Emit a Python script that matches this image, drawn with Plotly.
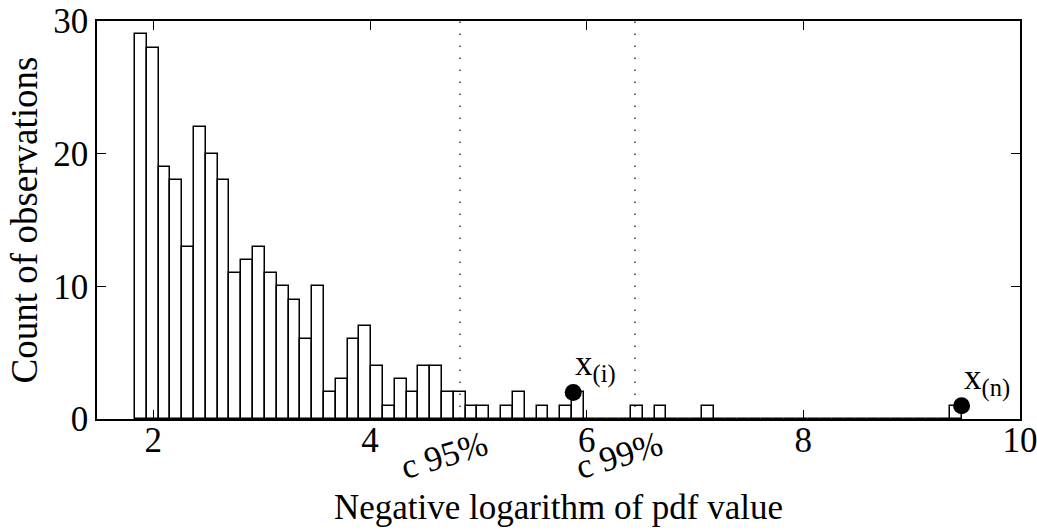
import numpy as np
import plotly.graph_objects as go

# Histogram of negative log pdf values: 70 equal-width bins
bin_lo = 1.831
bin_hi = 9.461
counts = [29, 28, 19, 18, 13, 22, 20, 18, 11, 12,
          13, 11, 10, 9, 6, 10, 2, 3, 6, 7,
          4, 1, 3, 2, 4, 4, 2, 2, 1, 1,
          0, 1, 2, 0, 1, 0, 1, 2, 0, 0,
          0, 0, 1, 0, 1, 0, 0, 0, 1, 0,
          0, 0, 0, 0, 0, 0, 0, 0, 0, 0,
          0, 0, 0, 0, 0, 0, 0, 0, 0, 1]

# Critical values (95% and 99%)
crit_x = [4.831, 6.446]
crit_labels = ["c 95%", "c 99%"]

# Highlighted observations
obs_x = [5.876, 9.461]
obs_y = [2, 1]
obs_labels = ["x<sub>(i)</sub>", "x<sub>(n)</sub>"]

x_ticks = [2, 4, 6, 8, 10]
y_ticks = [0, 10, 20, 30]

edges = np.linspace(bin_lo, bin_hi, len(counts) + 1)
centers = (edges[:-1] + edges[1:]) / 2
width = edges[1] - edges[0]

FONT = "Liberation Serif, Times New Roman, serif"
FS = 35

fig = go.Figure()

fig.add_trace(go.Bar(
    x=centers, y=counts, width=width,
    marker=dict(color="white", line=dict(color="black", width=1.5)),
    showlegend=False, hoverinfo="skip",
))

for cx in crit_x:
    fig.add_shape(type="line", x0=cx, x1=cx, y0=0, y1=1, xref="x", yref="paper",
                  line=dict(color="black", width=1.2, dash="1.5px,10.5px"))

fig.add_trace(go.Scatter(
    x=obs_x, y=obs_y, mode="markers",
    marker=dict(color="black", size=17),
    showlegend=False, hoverinfo="skip", cliponaxis=False,
))

for ox, oy, lab in zip(obs_x, obs_y, obs_labels):
    fig.add_annotation(x=ox, y=oy, xref="x", yref="y", text=lab, showarrow=False,
                       xanchor="left", yanchor="bottom", xshift=0, yshift=2,
                       font=dict(family=FONT, size=FS, color="black"))

for cx, lab in zip(crit_x, crit_labels):
    fig.add_annotation(x=cx, y=-0.092, xref="x", yref="paper", text=lab, showarrow=False,
                       xanchor="center", yanchor="middle", xshift=-16, textangle=-17,
                       font=dict(family=FONT, size=FS, color="black"))

axis_common = dict(
    showline=True, linecolor="black", linewidth=1.5, mirror="ticks",
    ticks="inside", ticklen=9, tickwidth=1.2, tickcolor="black",
    showgrid=False, zeroline=False, automargin=False,
    ticklabeloverflow="allow",
    tickfont=dict(family=FONT, size=FS, color="black"),
)

fig.update_xaxes(range=[1.48, 10.0001], tickvals=x_ticks, ticktext=[str(v) for v in x_ticks],
                 ticklabelstandoff=-11,
                 title=dict(text="Negative logarithm of pdf value",
                            font=dict(family=FONT, size=FS, color="black"), standoff=36),
                 **axis_common)
fig.update_yaxes(range=[0, 30], tickvals=y_ticks, ticktext=[str(v) for v in y_ticks],
                 title=dict(text="Count of observations",
                            font=dict(family=FONT, size=37, color="black"), standoff=4),
                 **axis_common)

fig.update_layout(
    width=1037, height=531,
    margin=dict(l=97, r=17, t=21, b=112, autoexpand=False),
    paper_bgcolor="white", plot_bgcolor="white",
    bargap=0,
)

fig.write_html("out.html")
